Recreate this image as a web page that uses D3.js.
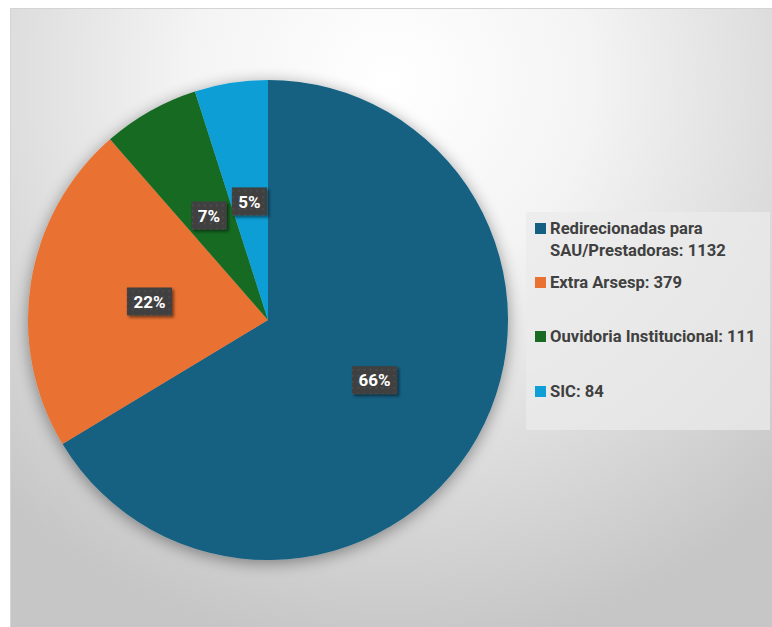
<!DOCTYPE html>
<html>
<head>
<meta charset="utf-8">
<script src="https://cdn.jsdelivr.net/npm/d3@7"></script>
<style>
  html, body { margin: 0; padding: 0; background: #ffffff; }
  svg { display: block; }
</style>
</head>
<body>
<svg id="chart" width="772" height="627"></svg>
<script>
// Manifestações por destino
const categories = ["Redirecionadas para SAU/Prestadoras", "Extra Arsesp", "Ouvidoria Institucional", "SIC"];
const values = [1132, 379, 111, 84];
const colors = ["#156082", "#E97132", "#196B24", "#0F9ED5"];
const legendLines = [
  ["Redirecionadas para", "SAU/Prestadoras: 1132"],
  ["Extra Arsesp: 379"],
  ["Ouvidoria Institucional: 111"],
  ["SIC: 84"]
];

const svg = d3.select("#chart");
const W = 772, H = 627;
const defs = svg.append("defs");

// chart area background: soft radial gradient
const bg = defs.append("radialGradient").attr("id", "bgGrad")
  .attr("gradientUnits", "userSpaceOnUse")
  .attr("cx", 390).attr("cy", 80).attr("r", 570);
bg.append("stop").attr("offset", 0).attr("stop-color", "#ffffff");
bg.append("stop").attr("offset", 0.35).attr("stop-color", "#f4f4f4");
bg.append("stop").attr("offset", 1).attr("stop-color", "#c6c6c6");

// pie shadow
const sh = defs.append("filter").attr("id", "pieShadow")
  .attr("x", "-20%").attr("y", "-20%").attr("width", "140%").attr("height", "140%");
sh.append("feGaussianBlur").attr("in", "SourceAlpha").attr("stdDeviation", 8).attr("result", "b");
sh.append("feOffset").attr("in", "b").attr("dx", 0).attr("dy", 3).attr("result", "o");
sh.append("feComponentTransfer").attr("in", "o").attr("result", "s")
  .append("feFuncA").attr("type", "linear").attr("slope", 0.4);
const shm = sh.append("feMerge");
shm.append("feMergeNode").attr("in", "s");
shm.append("feMergeNode").attr("in", "SourceGraphic");

// label box shadow
const lsh = defs.append("filter").attr("id", "lblShadow")
  .attr("x", "-30%").attr("y", "-30%").attr("width", "160%").attr("height", "160%");
lsh.append("feGaussianBlur").attr("in", "SourceAlpha").attr("stdDeviation", 1.5).attr("result", "b");
lsh.append("feOffset").attr("in", "b").attr("dx", 2).attr("dy", 2).attr("result", "o");
lsh.append("feComponentTransfer").attr("in", "o").attr("result", "s")
  .append("feFuncA").attr("type", "linear").attr("slope", 0.5);
const lshm = lsh.append("feMerge");
lshm.append("feMergeNode").attr("in", "s");
lshm.append("feMergeNode").attr("in", "SourceGraphic");

// dotted texture for data label boxes
const pat = defs.append("pattern").attr("id", "dots")
  .attr("patternUnits", "userSpaceOnUse").attr("width", 6).attr("height", 6);
pat.append("rect").attr("width", 6).attr("height", 6).attr("fill", "#404040");
pat.append("rect").attr("x", 1).attr("y", 1).attr("width", 1.4).attr("height", 1.4).attr("fill", "#565656");

// chart area
svg.append("rect")
  .attr("x", 10.5).attr("y", 8.5).attr("width", W - 10).attr("height", H - 8)
  .attr("fill", "url(#bgGrad)").attr("stroke", "#d4d4d4").attr("stroke-width", 1);

// pie
const cx = 268, cy = 320, R = 240;
const pie = d3.pie().sort(null).value(d => d.value);
const arcs = pie(categories.map((c, i) => ({ name: c, value: values[i], color: colors[i] })));
const arc = d3.arc().innerRadius(0).outerRadius(R);

const g = svg.append("g").attr("transform", `translate(${cx},${cy})`);
g.append("g").attr("filter", "url(#pieShadow)")
  .selectAll("path").data(arcs).join("path")
  .attr("d", arc)
  .attr("fill", d => d.data.color);

// data labels (percent of total)
const total = d3.sum(values);
const labelRadius = [0.51, 0.5, 0.5, 0.5];
const lab = g.selectAll("g.lbl").data(arcs).join("g").attr("class", "lbl")
  .attr("transform", (d, i) => {
    const a = (d.startAngle + d.endAngle) / 2;
    const r = R * labelRadius[i];
    return `translate(${Math.sin(a) * r},${-Math.cos(a) * r})`;
  });
lab.each(function(d) {
  const sel = d3.select(this);
  const txt = d3.format(".0%")(d.value / total);
  const t = sel.append("text")
    .attr("text-anchor", "middle").attr("dy", "0.36em")
    .attr("font-family", "Roboto, 'Liberation Sans', sans-serif")
    .attr("font-weight", "bold").attr("font-size", 17)
    .attr("fill", "#ffffff").text(txt);
  const bb = t.node().getBBox();
  sel.insert("rect", "text")
    .attr("x", bb.x - 6.5).attr("y", -14)
    .attr("width", bb.width + 13).attr("height", 28)
    .attr("fill", "url(#dots)").attr("filter", "url(#lblShadow)");
});

// legend
const lg = svg.append("g");
lg.append("rect").attr("x", 526).attr("y", 212).attr("width", 244).attr("height", 218)
  .attr("fill", "#ebebeb").attr("fill-opacity", 0.75);
const legendY = [228, 282, 336, 391];
legendLines.forEach((lines, i) => {
  lg.append("rect").attr("x", 535).attr("y", legendY[i] - 5).attr("width", 11).attr("height", 11)
    .attr("fill", colors[i]);
  lines.forEach((ln, j) => {
    lg.append("text")
      .attr("x", 550).attr("y", legendY[i] + j * 22).attr("dy", "0.36em")
      .attr("font-family", "Roboto, 'Liberation Sans', sans-serif")
      .attr("font-weight", "bold").attr("font-size", 16.6)
      .attr("fill", "#404040").text(ln);
  });
});
</script>
</body>
</html>
